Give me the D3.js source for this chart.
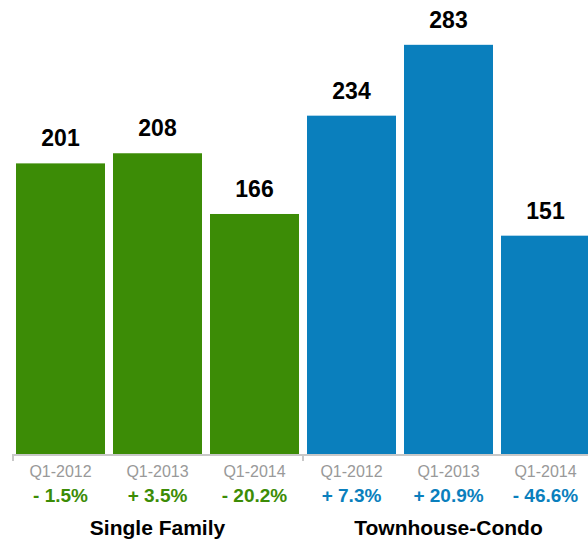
<!DOCTYPE html>
<html>
<head>
<meta charset="utf-8">
<script src="https://cdn.jsdelivr.net/npm/d3@7"></script>
<style>
  html, body { margin: 0; padding: 0; background: #fff; }
  svg { display: block; font-family: "Liberation Sans", Arial, Helvetica, sans-serif; }
</style>
</head>
<body>
<svg id="chart" width="588" height="542"></svg>
<script>
// ---- data ----
const groups = ["Single Family", "Townhouse-Condo"];
const quarters = ["Q1-2012", "Q1-2013", "Q1-2014"];
const singleFamily = [201, 208, 166];
const townhouseCondo = [234, 283, 151];
const singleFamilyChange = ["- 1.5%", "+ 3.5%", "- 20.2%"];
const townhouseCondoChange = ["+ 7.3%", "+ 20.9%", "- 46.6%"];
const groupColors = ["#3c8c06", "#0a7fbd"];

// ---- build rows ----
const seriesValues = [singleFamily, townhouseCondo];
const seriesChanges = [singleFamilyChange, townhouseCondoChange];
const rows = [];
groups.forEach((g, gi) => {
  quarters.forEach((q, qi) => {
    rows.push({ key: g + "|" + q, group: g, gi, quarter: q, value: seriesValues[gi][qi], change: seriesChanges[gi][qi] });
  });
});

const svg = d3.select("#chart");
const baseY = 454;

const x = d3.scaleBand()
  .domain(rows.map(d => d.key))
  .range([12, 12 + 97 * rows.length])
  .paddingInner(8 / 97)
  .paddingOuter(4 / 97);

const y = d3.scaleLinear().domain([0, 314]).range([baseY, 0]);

// bars
svg.append("g").selectAll("rect")
  .data(rows).join("rect")
  .attr("x", d => x(d.key))
  .attr("y", d => y(d.value))
  .attr("width", x.bandwidth())
  .attr("height", d => y(0) - y(d.value))
  .attr("fill", d => groupColors[d.gi]);

// value labels
svg.append("g").selectAll("text")
  .data(rows).join("text")
  .attr("x", d => x(d.key) + x.bandwidth() / 2)
  .attr("y", d => y(d.value) - 17)
  .attr("text-anchor", "middle")
  .attr("font-size", 23)
  .attr("font-weight", "bold")
  .attr("fill", "#000")
  .text(d => d.value);

// axis
const axis = d3.axisBottom(x).tickSize(0).tickPadding(12).tickFormat(k => k.split("|")[1]);
const ax = svg.append("g").attr("transform", `translate(0,${baseY + 1})`).call(axis);
ax.select(".domain")
  .attr("d", `M12,0H588`)
  .attr("stroke", "#c8c8c8")
  .attr("stroke-width", 2);
ax.selectAll(".tick text")
  .attr("font-size", 16)
  .attr("fill", "#999")
  .attr("font-family", "\"Liberation Sans\", Arial, Helvetica, sans-serif")
  .attr("dy", null)
  .attr("y", 22);

// group boundary ticks
const boundaries = groups.map((g, gi) => {
  const firstKey = g + "|" + quarters[0];
  return x(firstKey) - x.step() * x.paddingInner() / 2;
});
boundaries[0] = 13;
svg.append("g").selectAll("line")
  .data(boundaries).join("line")
  .attr("x1", d => d).attr("x2", d => d)
  .attr("y1", baseY + 1).attr("y2", baseY + 7)
  .attr("stroke", "#c8c8c8")
  .attr("stroke-width", 2);

// percent change labels
svg.append("g").selectAll("text")
  .data(rows).join("text")
  .attr("x", d => x(d.key) + x.bandwidth() / 2)
  .attr("y", 502)
  .attr("text-anchor", "middle")
  .attr("font-size", 19)
  .attr("font-weight", "bold")
  .attr("fill", d => groupColors[d.gi])
  .text(d => d.change);

// group labels
svg.append("g").selectAll("text")
  .data(groups).join("text")
  .attr("x", (g) => {
    const a = x(g + "|" + quarters[0]);
    const b = x(g + "|" + quarters[quarters.length - 1]) + x.bandwidth();
    return (a + b) / 2;
  })
  .attr("y", 535)
  .attr("text-anchor", "middle")
  .attr("font-size", 21)
  .attr("font-weight", "bold")
  .attr("fill", "#000")
  .text(g => g);
</script>
</body>
</html>
